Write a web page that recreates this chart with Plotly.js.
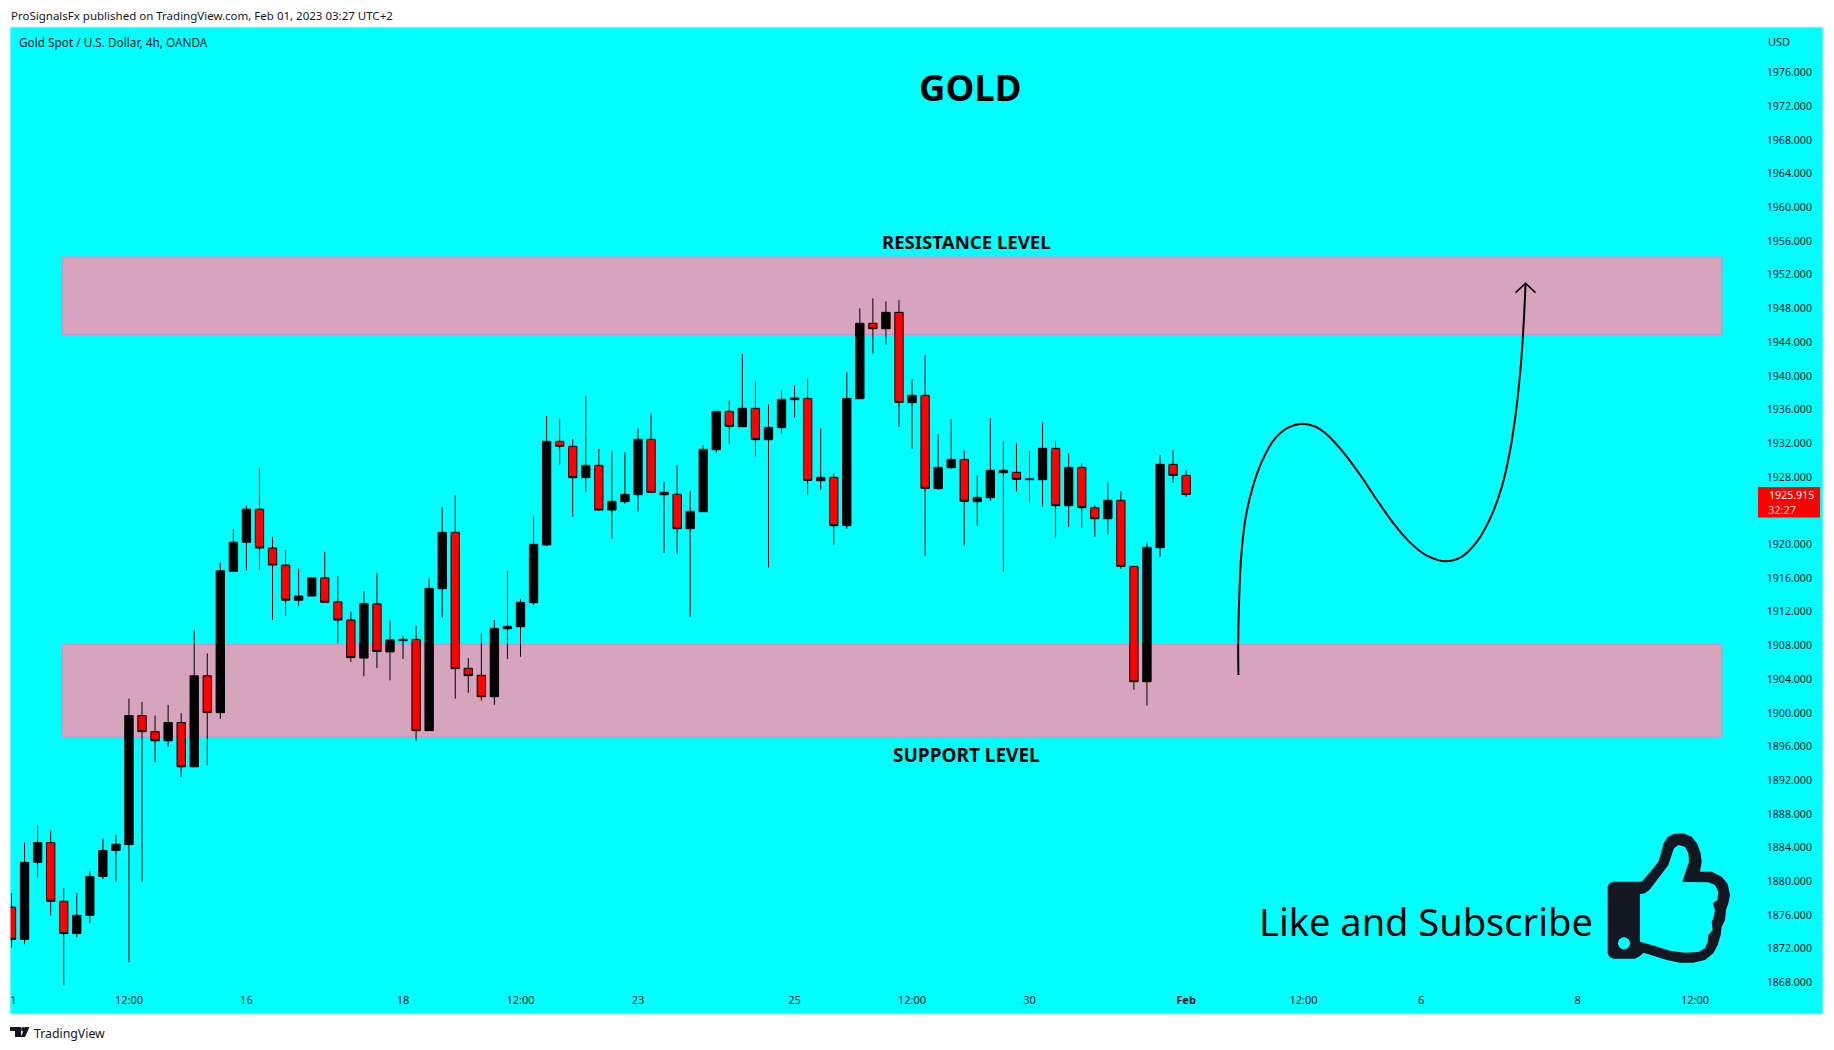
<!DOCTYPE html>
<html><head><meta charset="utf-8">
<script src="https://cdn.plot.ly/plotly-3.0.1.min.js"></script>
<style>html,body{margin:0;padding:0;background:#fff}</style></head>
<body><div id="chart" style="width:1834px;height:1050px"></div>
<script>
const candleIndex = Array.from({length: 91}, (_, i) => i);
const openPrices = [1876.94,1873.11,1882.25,1884.60,1877.63,1873.80,1875.96,1880.58,1883.67,1884.36,1899.67,1897.76,1896.68,1898.84,1893.59,1904.39,1900.02,1916.81,1920.24,1924.17,1919.56,1917.54,1913.37,1913.86,1916.02,1913.17,1911.01,1906.50,1912.93,1907.23,1908.56,1908.72,1897.88,1914.73,1921.42,1905.28,1904.45,1901.91,1909.98,1910.22,1913.07,1919.92,1932.22,1931.63,1927.91,1929.37,1924.07,1925.06,1925.89,1932.46,1926.17,1925.93,1921.85,1923.87,1931.23,1935.78,1933.96,1936.14,1932.42,1933.84,1937.17,1937.32,1927.55,1927.95,1922.21,1937.28,1946.23,1945.59,1947.53,1936.81,1937.68,1926.60,1929.09,1930.08,1925.06,1925.53,1928.78,1928.54,1927.67,1927.67,1931.39,1924.58,1929.13,1924.35,1923.04,1925.22,1917.38,1903.69,1919.60,1929.49,1928.18];
const highPrices = [1878.56,1884.60,1886.66,1886.07,1879.20,1878.61,1881.16,1885.09,1885.49,1901.69,1901.29,1899.67,1900.95,1899.97,1909.79,1907.04,1917.84,1921.81,1924.56,1929.03,1920.88,1919.31,1917.10,1916.02,1919.11,1916.22,1912.00,1914.45,1916.61,1910.96,1909.11,1910.30,1915.96,1924.39,1925.85,1906.50,1909.43,1911.01,1916.83,1913.51,1923.32,1935.23,1934.87,1932.46,1937.60,1931.31,1931.03,1930.92,1933.76,1935.54,1927.39,1929.37,1926.33,1931.79,1935.78,1937.09,1942.59,1939.34,1936.61,1938.27,1938.87,1939.70,1933.76,1928.42,1940.41,1948.01,1949.19,1948.84,1949.00,1939.58,1942.43,1933.05,1934.83,1931.15,1928.18,1934.95,1932.22,1931.98,1931.03,1934.48,1932.22,1930.80,1929.61,1924.62,1927.35,1926.29,1917.38,1920.23,1930.56,1931.15,1928.78];
const lowPrices = [1872.18,1872.53,1880.43,1875.96,1867.67,1873.36,1875.03,1880.28,1879.94,1870.37,1879.94,1894.13,1895.99,1892.36,1893.59,1893.78,1899.28,1916.81,1916.90,1917.00,1911.01,1911.50,1912.68,1913.86,1913.03,1908.26,1906.05,1904.34,1905.32,1903.85,1906.38,1896.65,1897.88,1911.29,1901.68,1902.39,1901.44,1900.96,1906.38,1906.66,1912.83,1919.80,1929.45,1923.28,1926.25,1923.95,1920.67,1924.82,1923.87,1926.17,1919.01,1918.89,1911.41,1923.87,1930.88,1931.94,1933.96,1930.40,1917.23,1933.13,1935.03,1925.89,1926.48,1919.96,1921.85,1937.28,1942.63,1943.69,1933.96,1931.35,1918.65,1926.48,1928.98,1919.84,1922.21,1925.18,1916.75,1926.25,1924.94,1924.47,1920.79,1922.09,1921.97,1920.91,1921.14,1917.11,1902.74,1900.85,1918.53,1927.31,1925.65];
const closePrices = [1873.11,1882.25,1884.60,1877.63,1873.80,1875.96,1880.58,1883.67,1884.41,1899.67,1897.76,1896.68,1898.84,1893.59,1904.39,1900.02,1916.86,1920.24,1924.17,1919.56,1917.54,1913.37,1913.86,1916.02,1913.12,1911.01,1906.55,1912.98,1907.28,1908.66,1908.72,1897.88,1914.77,1921.42,1905.24,1904.41,1901.91,1910.02,1910.26,1913.11,1920.00,1932.22,1931.63,1927.91,1929.37,1924.07,1925.10,1925.93,1932.46,1926.17,1925.89,1921.85,1923.91,1931.27,1935.78,1934.00,1936.14,1932.42,1933.88,1937.21,1937.36,1927.59,1927.95,1922.21,1937.32,1946.23,1945.59,1947.53,1936.85,1937.68,1926.64,1929.13,1930.08,1925.10,1925.57,1928.78,1928.50,1927.71,1927.75,1931.39,1924.58,1929.13,1924.35,1923.04,1925.22,1917.38,1903.69,1919.64,1929.49,1928.18,1925.915];

const pathIndex = [94.01,93.99,94.07,94.22,94.53,95.04,95.80,96.82,97.85,98.87,99.89,100.91,102.06,103.34,104.62,105.89,107.17,108.45,109.93,111.13,112.28,113.30,114.19,114.83,115.29,115.68,115.88,116.01];
const pathPrice = [1904.49,1908.25,1913.79,1918.53,1922.89,1926.45,1929.81,1932.58,1933.89,1934.32,1933.96,1932.86,1930.88,1928.23,1925.26,1922.49,1920.20,1918.65,1917.98,1918.53,1920.31,1923.08,1926.84,1931.20,1935.94,1941.88,1946.63,1950.98];
const arrowIndex = [115.24,116.01,116.77];
const arrowPrice = [1949.87,1950.98,1949.87];

const priceTicks = [1868,1872,1876,1880,1884,1888,1892,1896,1900,1904,1908,1912,1916,1920,1928,1932,1936,1940,1944,1948,1952,1956,1960,1964,1968,1972,1976];
const timeTickIndex = [0.15,9,18,30,39,48,60,69,78,90,99,108,120,129];
const timeTickLabels = ['1','12:00','16','18','12:00','23','25','12:00','30','<b>Feb</b>','12:00','6','8','12:00'];

const zoneResistance = [1944.88, 1954.10];
const zoneSupport = [1897.13, 1908.10];
const zoneIndex = [3.9, 131.05];

// page geometry
const W = 1834, H = 1050, L = 10, R = 1823, T = 27, B = 1014;
const px = x => (x - L) / (R - L);
const py = y => 1 - (y - T) / (B - T);
const FONT = '"Noto Sans", Tahoma, sans-serif';
const INK = '#131722';

// thumb icon and logo outlines, in page pixels
const thumbOuter = [[70,185],[155,185],[180,157],[205,125],[213,100],[220,72],[232,52],[250,42],[280,40],[305,50],[322,72],[332,100],[335,125],[330,155],[365,155],[395,170],[413,192],[420,225],[415,250],[408,270],[405,300],[395,320],[392,345],[383,375],[370,400],[345,420],[310,428],[270,428],[230,420],[190,407],[160,398],[150,408],[135,416],[70,416],[58,410],[53,400],[53,200],[58,190]];
const thumbInner = [[150,222],[165,220],[180,208],[235,135],[245,105],[252,85],[265,75],[285,80],[295,100],[297,125],[285,160],[277,186],[355,187],[375,195],[385,215],[382,240],[368,250],[375,270],[370,295],[365,305],[368,330],[355,345],[353,365],[345,385],[325,396],[285,398],[240,392],[195,378],[150,365]];
const thumbPt = p => `${px(1590 + p[0] / 3)},${py(820 + p[1] / 3)}`;
const poly = pts => 'M' + pts.map(thumbPt).join('L') + 'Z';
const circle = (cx, cy, r, n) => { const a = []; for (let i = 0; i < n; i++) a.push([cx + r * Math.cos(i / n * 2 * Math.PI), cy + r * Math.sin(i / n * 2 * Math.PI)]); return poly(a); };
const pxPoly = pts => 'M' + pts.map(p => `${px(p[0])},${py(p[1])}`).join('L') + 'Z';
const pxCircle = (cx, cy, r, n) => { const a = []; for (let i = 0; i < n; i++) a.push([cx + r * Math.cos(i / n * 2 * Math.PI), cy + r * Math.sin(i / n * 2 * Math.PI)]); return pxPoly(a); };

const zoneShape = ys => ({type:'rect', layer:'below', xref:'x', yref:'y', x0:zoneIndex[0], x1:zoneIndex[1], y0:ys[0], y1:ys[1], fillcolor:'#d6a5bd', line:{color:'#d88cc2', width:1}});
const paperRect = (x0,y0,x1,y1,fill,line) => ({type:'rect', xref:'paper', yref:'paper', x0:px(x0), x1:px(x1), y0:py(y0), y1:py(y1), fillcolor:fill, line:line||{width:0}});
const pathShape = (d, fill) => ({type:'path', xref:'paper', yref:'paper', path:d, fillcolor:fill, line:{width:0}, fillrule:'evenodd'});

const shapes = [
  zoneShape(zoneResistance), zoneShape(zoneSupport),
  paperRect(1758,487,1820,517.5,'#ff0000'),
  paperRect(1755,986,1822,1000,'#00ffff'),
  paperRect(L,T,R,B,'rgba(0,0,0,0)',{color:'#c4f4f4',width:1}),
  pathShape(poly(thumbOuter) + poly(thumbInner) + circle(102,370,18,24), INK),
  pathShape(pxPoly([[10,1027],[21,1027],[21,1037],[15,1037],[15,1031],[10,1031]]), INK),
  pathShape(pxCircle(23.3,1029.3,2.2,16), INK),
  pathShape(pxPoly([[25,1027],[29.5,1027],[25,1037],[20.8,1037]]), INK)
];

const text = (t, x, y, size, anchor, opts) => Object.assign({
  text:t, xref:'paper', yref:'paper', x:px(x), y:py(y), xanchor:anchor, yanchor:'middle',
  showarrow:false, align:'left', font:{family:FONT, size:size, color:'#131722'}, borderpad:0
}, opts||{});
const bold = (t, x, y, size) => text('<b>'+t+'</b>', x, y, size, 'center', {font:{family:FONT,size:size,color:'#000'}});

const annotations = [
  text('ProSignalsFx published on TradingView.com, Feb 01, 2023 03:27 UTC+2', 9.5, 15, 11.5, 'left'),
  text('Gold Spot / U.S. Dollar, 4h, OANDA', 18, 42, 11.8, 'left'),
  text('USD', 1767, 41, 11, 'left'),
  text('TradingView', 32.5, 1033, 12.3, 'left'),
  bold('GOLD', 970, 87, 36.5),
  bold('RESISTANCE LEVEL', 966.5, 241, 18.6),
  bold('SUPPORT LEVEL', 966.5, 755, 19),
  text('Like and Subscribe', 1258, 921, 38, 'left', {font:{family:FONT,size:38,color:'#000'}}),
  text('1925.915', 1768, 495, 10.6, 'left', {font:{family:FONT,size:10.6,color:'#fff'}}),
  text('32:27', 1767, 509.5, 11, 'left', {font:{family:FONT,size:11,color:'#ffd0d0'}})
];

const traces = [
  {type:'candlestick', x:candleIndex, open:openPrices, high:highPrices, low:lowPrices, close:closePrices,
   increasing:{line:{color:'#000',width:1}, fillcolor:'#000'},
   decreasing:{line:{color:'#000',width:1}, fillcolor:'#ff0000'},
   whiskerwidth:0, hoverinfo:'none', showlegend:false},
  {type:'scatter', mode:'lines', x:pathIndex, y:pathPrice, line:{color:'#000',width:2,shape:'spline',smoothing:1}, hoverinfo:'none', showlegend:false},
  {type:'scatter', mode:'lines', x:arrowIndex, y:arrowPrice, line:{color:'#000',width:1.6}, hoverinfo:'none', showlegend:false}
];

const layout = {
  width:W, height:H, paper_bgcolor:'#fff', plot_bgcolor:'#00ffff', showlegend:false, dragmode:false,
  boxgap:0.36, boxgroupgap:0,
  margin:{l:L, r:W-R, t:T, b:H-B, pad:0},
  font:{family:FONT, color:'#131722', size:11},
  xaxis:{type:'linear', range:[-0.115,138.8], rangeslider:{visible:false}, showgrid:false, zeroline:false, showline:false,
         tickmode:'array', tickvals:timeTickIndex, ticktext:timeTickLabels, ticks:'', ticklabelposition:'inside', ticklabeloverflow:'allow',
         ticklabelstandoff:5, tickfont:{family:FONT,size:11,color:'#131722'}},
  yaxis:{type:'linear', side:'right', range:[1864.25,1981.4], showgrid:false, zeroline:false, showline:false,
         tickmode:'array', tickvals:priceTicks, tickformat:'.3f', ticks:'', ticklabelposition:'inside', ticklabeloverflow:'allow',
         ticklabelstandoff:8, tickfont:{family:FONT,size:10.6,color:'#131722'}},
  shapes:shapes, annotations:annotations
};
Plotly.newPlot('chart', traces, layout, {displayModeBar:false, staticPlot:true});
</script></body></html>
